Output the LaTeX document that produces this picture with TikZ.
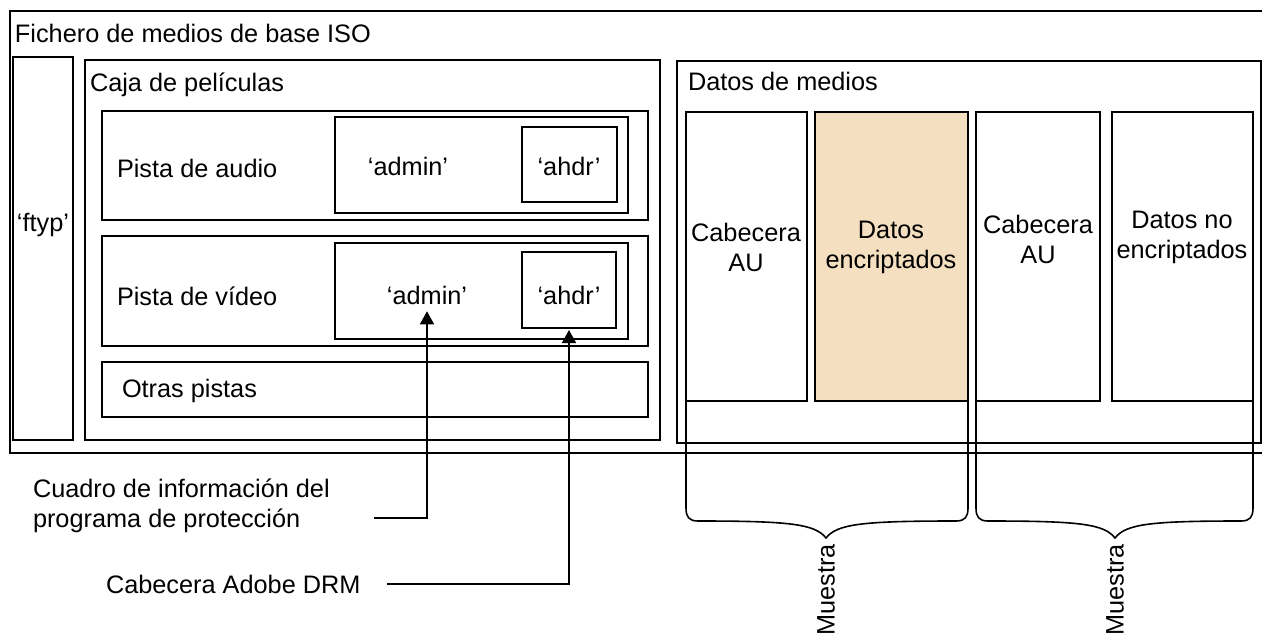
\documentclass[tikz,border=0pt]{standalone}
\usepackage{fontspec}
\setmainfont{Liberation Sans}
\usetikzlibrary{arrows.meta}
\definecolor{encfill}{HTML}{F4DFC0}
\tikzset{
  box/.style={draw=black, line width=1.6pt, inner sep=0pt, outer sep=0pt, anchor=north west},
  lbl/.style={inner sep=0pt, outer sep=0pt, font=\fontsize{25.3}{30}\selectfont},
  twoline/.style={lbl, align=center},
  arr/.style={line width=1.6pt, -{Triangle[width=14pt,length=13pt]}},
  brace/.style={line width=1.6pt},
}
\begin{document}
\begin{tikzpicture}[x=1pt, y=-1pt]
\useasboundingbox (0,0) rectangle (1262,637);
\clip (0,0) rectangle (1262,637);

% ISO base media file (runs past the right edge)
\node[box, minimum width=1270pt, minimum height=442pt] (iso) at (10,11) {};
\node[lbl, anchor=base west] (isoT) at (15,42) {Fichero de medios de base ISO};

% file type box
\node[box, minimum width=60pt, minimum height=383pt] (ftyp) at (13,57) {};
\node[lbl] (ftypT) at (43,225) {‘ftyp’};

% movie box and its tracks
\node[box, minimum width=575pt, minimum height=380pt] (moov) at (85,60) {};
\node[lbl, anchor=base west] (moovT) at (90,91) {Caja de películas};

\node[box, minimum width=546pt, minimum height=109pt] (audio) at (102,111) {};
\node[lbl, anchor=west] (audioT) at (117,168) {Pista de audio};
\node[box, minimum width=293pt, minimum height=96pt] (audioAdm) at (335,117) {};
\node[lbl] (audioAdmT) at (408,166) {‘admin’};
\node[box, minimum width=95pt, minimum height=75pt] (audioAhdr) at (522,127) {};
\node[lbl] (audioAhdrT) at (569,166) {‘ahdr’};

\node[box, minimum width=546pt, minimum height=110pt] (video) at (102,236) {};
\node[lbl, anchor=west] (videoT) at (117,296) {Pista de vídeo};
\node[box, minimum width=293pt, minimum height=96pt] (videoAdm) at (335,243) {};
\node[lbl] (videoAdmT) at (427,295) {‘admin’};
\node[box, minimum width=94pt, minimum height=76pt] (videoAhdr) at (522,252) {};
\node[lbl] (videoAhdrT) at (569,295) {‘ahdr’};

\node[box, minimum width=546pt, minimum height=55pt] (other) at (102,362) {};
\node[lbl, anchor=west] (otherT) at (122,391) {Otras pistas};

% media data
\node[box, minimum width=584pt, minimum height=382pt] (mdat) at (677,61) {};
\node[lbl, anchor=base west] (mdatT) at (688,90) {Datos de medios};

\node[box, minimum width=121pt, minimum height=289pt] (au1) at (686,112) {};
\node[twoline] (au1T) at (746,247) {Cabecera\\AU};
\node[box, fill=encfill, minimum width=153pt, minimum height=289pt] (enc) at (815,112) {};
\node[twoline] (encT) at (891,247) {Datos\\encriptados};
\node[box, minimum width=124pt, minimum height=289pt] (au2) at (976,112) {};
\node[twoline] (au2T) at (1038,239) {Cabecera\\AU};
\node[box, minimum width=141pt, minimum height=289pt] (plain) at (1112,112) {};
\node[twoline] (plainT) at (1182,237) {Datos no\\encriptados};

% sample braces
\draw[brace] (au1.south west |- 0,395) -- (686,508)
  .. controls (686,517) and (689,521) .. (698,521)
  .. controls (790,521) and (815,524) .. (826,538)
  .. controls (837,524) and (862,521) .. (956,521)
  .. controls (965,521) and (968,517) .. (968,508) -- (enc.south east |- 0,395);
\draw[brace] (au2.south west |- 0,395) -- (976,508)
  .. controls (976,517) and (979,521) .. (988,521)
  .. controls (1080,521) and (1104,524) .. (1115,538)
  .. controls (1126,524) and (1150,521) .. (1241,521)
  .. controls (1250,521) and (1253,517) .. (1253,508) -- (plain.south east |- 0,395);
\node[lbl, rotate=90] (s1) at (826,590) {Muestra};
\node[lbl, rotate=90] (s2) at (1115,590) {Muestra};

% callouts
\node[lbl, align=left, anchor=west] (infoT) at (33,506) {Cuadro de información del\\programa de protección};
\node[lbl, anchor=west] (drmT) at (106,584) {Cabecera Adobe DRM};
\coordinate (infoEnd) at (374,518);
\coordinate (drmEnd) at (387,584);
\draw[arr] (infoEnd) -| ([yshift=-7pt]videoAdmT.south);
\draw[arr] (drmEnd) -| ([yshift=-2pt]videoAhdr.south);
\end{tikzpicture}
\end{document}
